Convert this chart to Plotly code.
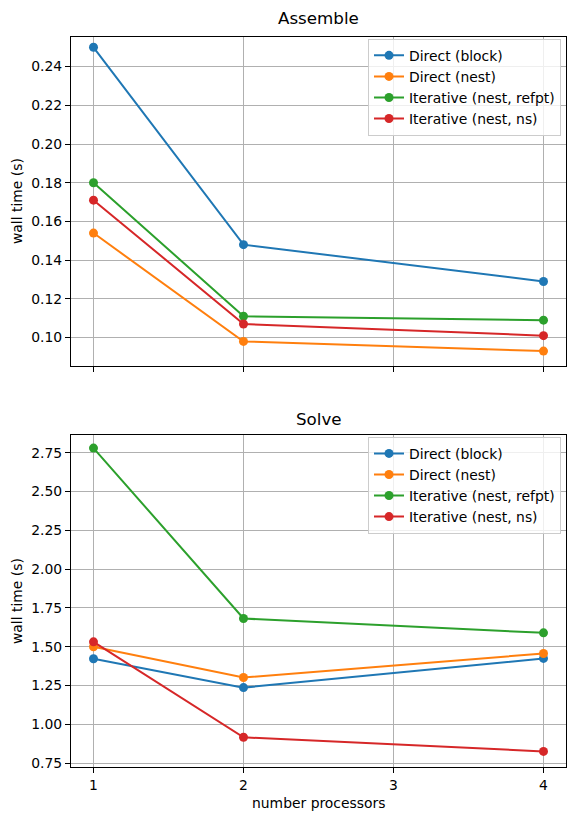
import plotly.graph_objects as go
from plotly.subplots import make_subplots

# data
procs = [1, 2, 4]
series_names = ['Direct (block)', 'Direct (nest)', 'Iterative (nest, refpt)', 'Iterative (nest, ns)']
colors = ['#1f77b4', '#ff7f0e', '#2ca02c', '#d62728']

assemble_block = [0.250, 0.148, 0.129]
assemble_nest = [0.154, 0.098, 0.093]
assemble_refpt = [0.180, 0.111, 0.109]
assemble_ns = [0.171, 0.107, 0.101]

solve_block = [1.423, 1.237, 1.425]
solve_nest = [1.500, 1.302, 1.457]
solve_refpt = [2.780, 1.682, 1.590]
solve_ns = [1.532, 0.917, 0.826]

x_ticks = [1, 2, 3, 4]
assemble_yticks = [0.10, 0.12, 0.14, 0.16, 0.18, 0.20, 0.22, 0.24]
solve_yticks = [0.75, 1.00, 1.25, 1.50, 1.75, 2.00, 2.25, 2.50, 2.75]

W, H = 576, 824
font = 'DejaVu Sans'
fs = 13.9

fig = make_subplots(rows=2, cols=1)

assemble = [assemble_block, assemble_nest, assemble_refpt, assemble_ns]
solve = [solve_block, solve_nest, solve_refpt, solve_ns]

for i, name in enumerate(series_names):
    fig.add_trace(go.Scatter(
        x=procs, y=assemble[i], name=name, mode='lines+markers',
        line=dict(color=colors[i], width=2),
        marker=dict(color=colors[i], size=9),
        legend='legend'
    ), row=1, col=1)
for i, name in enumerate(series_names):
    fig.add_trace(go.Scatter(
        x=procs, y=solve[i], name=name, mode='lines+markers',
        line=dict(color=colors[i], width=2),
        marker=dict(color=colors[i], size=9),
        legend='legend2'
    ), row=2, col=1)

x_dom = [71 / W, 566 / W]
axis_common = dict(
    showline=True, linecolor='black', linewidth=1, mirror=True,
    showgrid=True, gridcolor='#b0b0b0', gridwidth=1,
    ticks='outside', ticklen=5, tickcolor='black',
    tickfont=dict(family=font, size=fs, color='black'),
    zeroline=False,
)

fig.update_xaxes(axis_common)
fig.update_yaxes(axis_common)

fig.update_layout(
    xaxis=dict(domain=x_dom, range=[0.85, 4.15], tickvals=x_ticks, showticklabels=False),
    xaxis2=dict(domain=x_dom, range=[0.85, 4.15], tickvals=x_ticks),
    yaxis=dict(domain=[1 - 368 / H, 1 - 37 / H], range=[0.0852, 0.2554],
               tickvals=assemble_yticks, tickformat='.2f'),
    yaxis2=dict(domain=[1 - 771 / H, 1 - 437 / H], range=[0.724, 2.865],
                tickvals=solve_yticks, tickformat='.2f'),
)

legend_common = dict(
    xanchor='right', yanchor='top', x=561 / W,
    bgcolor='rgba(255,255,255,0.8)', bordercolor='#cccccc', borderwidth=1,
    font=dict(family=font, size=fs, color='black'),
    tracegroupgap=0, itemwidth=30,
)

fig.update_layout(
    width=W, height=H,
    margin=dict(l=0, r=0, t=0, b=0),
    paper_bgcolor='white', plot_bgcolor='white',
    font=dict(family=font, color='black'),
    legend=dict(legend_common, y=1 - 39 / H),
    legend2=dict(legend_common, y=1 - 439 / H),
    annotations=[
        dict(text='Assemble', x=318.5 / W, y=1 - 18 / H, xref='paper', yref='paper',
             xanchor='center', yanchor='middle',
             showarrow=False, font=dict(family=font, size=16.7, color='black')),
        dict(text='Solve', x=318.5 / W, y=1 - 421 / H, xref='paper', yref='paper',
             xanchor='center', yanchor='middle',
             showarrow=False, font=dict(family=font, size=16.7, color='black')),
        dict(text='wall time (s)', x=17 / W, y=1 - 202 / H, xref='paper', yref='paper',
             xanchor='center', yanchor='middle',
             showarrow=False, textangle=-90, font=dict(family=font, size=fs, color='black')),
        dict(text='wall time (s)', x=17 / W, y=1 - 604 / H, xref='paper', yref='paper',
             xanchor='center', yanchor='middle',
             showarrow=False, textangle=-90, font=dict(family=font, size=fs, color='black')),
        dict(text='number processors', x=318.5 / W, y=1 - 807 / H, xref='paper', yref='paper',
             xanchor='center', yanchor='middle',
             showarrow=False, font=dict(family=font, size=fs, color='black')),
    ],
)

fig.write_html('out.html', config={'displayModeBar': False},
               post_script="document.body.style.margin='0';")
